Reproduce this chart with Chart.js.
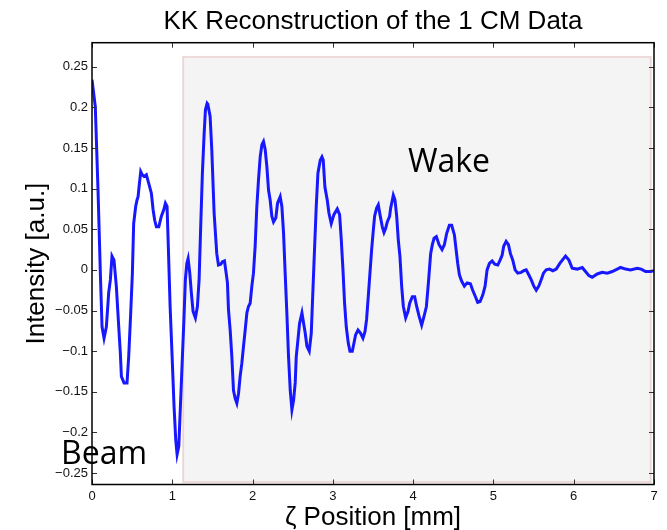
<!DOCTYPE html>
<html>
<head>
<meta charset="utf-8">
<script src="https://cdn.jsdelivr.net/npm/chart.js@4"></script>
<style>
body { margin: 0; background: #fff; }
#wrap { width: 667px; height: 530px; }
</style>
</head>
<body>
<div id="wrap"><canvas id="myChart" width="667" height="530"></canvas></div>
<script>
// zeta position [mm]
const zeta = [
  0.000, 0.041, 0.075, 0.104, 0.125, 0.150, 0.179, 0.208, 0.229, 0.249, 0.274, 0.303, 0.333, 0.353, 0.366, 0.399,
  0.436, 0.457, 0.482, 0.503, 0.519, 0.544, 0.561, 0.574, 0.586, 0.607, 0.627, 0.648, 0.677, 0.711, 0.740, 0.761,
  0.781, 0.802, 0.832, 0.864, 0.894, 0.914, 0.935, 0.948, 0.973, 0.998, 1.022, 1.043, 1.060, 1.081, 1.101, 1.126,
  1.143, 1.163, 1.181, 1.197, 1.218, 1.238, 1.259, 1.288, 1.313, 1.334, 1.355, 1.375, 1.397, 1.413, 1.434, 1.442,
  1.471, 1.492, 1.521, 1.554, 1.575, 1.604, 1.625, 1.650, 1.671, 1.687, 1.700, 1.721, 1.742, 1.762, 1.783, 1.804,
  1.825, 1.845, 1.866, 1.887, 1.908, 1.929, 1.949, 1.970, 1.991, 2.011, 2.032, 2.053, 2.074, 2.095, 2.116, 2.136,
  2.157, 2.178, 2.199, 2.219, 2.240, 2.261, 2.290, 2.311, 2.344, 2.365, 2.386, 2.406, 2.427, 2.448, 2.469, 2.490,
  2.511, 2.531, 2.544, 2.565, 2.585, 2.615, 2.636, 2.656, 2.677, 2.706, 2.731, 2.747, 2.768, 2.793, 2.814, 2.843,
  2.864, 2.880, 2.901, 2.930, 2.951, 2.980, 3.013, 3.055, 3.084, 3.105, 3.126, 3.146, 3.167, 3.192, 3.213, 3.242,
  3.263, 3.283, 3.313, 3.346, 3.375, 3.400, 3.420, 3.441, 3.462, 3.483, 3.504, 3.520, 3.545, 3.566, 3.587, 3.616,
  3.637, 3.657, 3.678, 3.707, 3.720, 3.741, 3.753, 3.774, 3.795, 3.815, 3.836, 3.857, 3.878, 3.907, 3.937, 3.957,
  3.990, 4.019, 4.044, 4.074, 4.106, 4.136, 4.165, 4.190, 4.218, 4.239, 4.261, 4.289, 4.323, 4.360, 4.389, 4.418,
  4.451, 4.480, 4.514, 4.535, 4.555, 4.576, 4.605, 4.638, 4.672, 4.713, 4.742, 4.776, 4.804, 4.834, 4.867, 4.896,
  4.921, 4.950, 4.984, 5.017, 5.054, 5.083, 5.108, 5.128, 5.158, 5.187, 5.212, 5.241, 5.270, 5.303, 5.345, 5.378,
  5.408, 5.440, 5.470, 5.503, 5.533, 5.565, 5.595, 5.623, 5.657, 5.698, 5.740, 5.782, 5.827, 5.898, 5.940, 5.981,
  6.043, 6.106, 6.147, 6.189, 6.230, 6.293, 6.355, 6.417, 6.480, 6.542, 6.584, 6.646, 6.708, 6.791, 6.841, 6.895,
  6.958, 7.000
];
// intensity [a.u.]
const intensity = [
  0.234, 0.201, 0.098, -0.004, -0.070, -0.084, -0.070, -0.028, -0.012, 0.017, 0.012, -0.020, -0.070, -0.102, -0.131, -0.139,
  -0.139, -0.107, -0.053, -0.004, 0.057, 0.078, 0.086, 0.090, 0.102, 0.121, 0.117, 0.115, 0.117, 0.105, 0.094, 0.074,
  0.061, 0.053, 0.053, 0.066, 0.074, 0.082, 0.078, 0.037, -0.045, -0.107, -0.168, -0.209, -0.227, -0.217, -0.168, -0.107,
  -0.066, -0.012, 0.008, 0.014, -0.004, -0.029, -0.051, -0.059, -0.045, -0.012, 0.057, 0.119, 0.168, 0.197, 0.205, 0.204,
  0.189, 0.148, 0.070, 0.020, 0.006, 0.007, 0.010, 0.011, -0.004, -0.016, -0.049, -0.074, -0.107, -0.148, -0.158, -0.164,
  -0.152, -0.131, -0.115, -0.094, -0.074, -0.053, -0.045, -0.041, -0.020, -0.004, 0.029, 0.078, 0.111, 0.139, 0.154, 0.158,
  0.148, 0.127, 0.098, 0.086, 0.066, 0.059, 0.064, 0.082, 0.090, 0.078, 0.045, -0.004, -0.053, -0.107, -0.148, -0.172,
  -0.160, -0.139, -0.107, -0.086, -0.066, -0.053, -0.066, -0.078, -0.094, -0.100, -0.078, -0.037, 0.016, 0.078, 0.119, 0.135,
  0.139, 0.135, 0.102, 0.086, 0.070, 0.057, 0.068, 0.075, 0.068, 0.037, 0.000, -0.041, -0.070, -0.090, -0.100, -0.100,
  -0.090, -0.080, -0.074, -0.078, -0.084, -0.076, -0.061, -0.033, -0.004, 0.025, 0.049, 0.066, 0.076, 0.080, 0.068, 0.053,
  0.046, 0.051, 0.059, 0.066, 0.076, 0.086, 0.092, 0.086, 0.066, 0.037, 0.016, -0.020, -0.045, -0.059, -0.051, -0.041,
  -0.033, -0.033, -0.045, -0.057, -0.068, -0.057, -0.045, -0.016, 0.020, 0.031, 0.039, 0.041, 0.031, 0.025, 0.031, 0.045,
  0.055, 0.055, 0.043, 0.025, 0.008, -0.006, -0.014, -0.020, -0.016, -0.017, -0.025, -0.033, -0.040, -0.039, -0.031, -0.020,
  0.000, 0.008, 0.011, 0.007, 0.006, 0.012, 0.018, 0.029, 0.035, 0.031, 0.020, 0.012, 0.000, -0.004, -0.003, -0.001,
  0.000, -0.006, -0.012, -0.020, -0.025, -0.020, -0.012, -0.004, 0.000, 0.001, -0.001, 0.001, 0.008, 0.017, 0.012, 0.002,
  0.001, 0.003, -0.002, -0.007, -0.009, -0.005, -0.003, -0.004, -0.002, 0.001, 0.003, 0.001, 0.000, 0.002, 0.001, -0.002,
  -0.002, -0.001
];
const xTicks = [0, 1, 2, 3, 4, 5, 6, 7];
const yTicks = [-0.25, -0.2, -0.15, -0.1, -0.05, 0, 0.05, 0.1, 0.15, 0.2, 0.25];

const helv = '"Liberation Sans", Arial, Helvetica, sans-serif';

// wake region, beam/wake labels, box frame and inward ticks
const decorations = {
  id: 'decorations',
  beforeDatasetsDraw(chart) {
    const ctx = chart.ctx;
    const x = chart.scales.x, y = chart.scales.y;
    const l = x.getPixelForValue(1.135), r = x.getPixelForValue(6.96);
    const t = y.getPixelForValue(0.262), b = y.getPixelForValue(-0.261);
    ctx.save();
    ctx.fillStyle = '#f4f4f4';
    ctx.fillRect(l, t, r - l, b - t);
    ctx.strokeStyle = 'rgba(228,190,190,0.55)';
    ctx.lineWidth = 2;
    ctx.strokeRect(l, t, r - l, b - t);
    ctx.restore();
  },
  afterDraw(chart) {
    const ctx = chart.ctx;
    const a = chart.chartArea;
    const x = chart.scales.x, y = chart.scales.y;
    ctx.save();
    ctx.strokeStyle = '#333';
    ctx.lineWidth = 1;
    ctx.beginPath();
    xTicks.forEach(function (v) {
      const px = Math.round(x.getPixelForValue(v)) + 0.5;
      ctx.moveTo(px, a.bottom); ctx.lineTo(px, a.bottom - 5);
      ctx.moveTo(px, a.top); ctx.lineTo(px, a.top + 5);
    });
    yTicks.forEach(function (v) {
      const py = Math.round(y.getPixelForValue(v)) + 0.5;
      ctx.moveTo(a.left, py); ctx.lineTo(a.left + 5, py);
      ctx.moveTo(a.right, py); ctx.lineTo(a.right - 5, py);
    });
    ctx.stroke();
    ctx.strokeStyle = '#000';
    ctx.lineWidth = 1.5;
    ctx.strokeRect(a.left, a.top, a.right - a.left, a.bottom - a.top);

    ctx.fillStyle = '#000';
    ctx.font = '32px "Open Sans", sans-serif';
    ctx.textBaseline = 'alphabetic';
    ctx.textAlign = 'left';
    ctx.fillText('Wake', x.getPixelForValue(3.935), y.getPixelForValue(0.1205));
    ctx.fillText('Beam', x.getPixelForValue(-0.386), y.getPixelForValue(-0.2385));
    ctx.restore();
  }
};

function createChart() {
  const ctx = document.getElementById('myChart').getContext('2d');
  const points = zeta.map(function (z, i) { return { x: z, y: intensity[i] }; });
  new Chart(ctx, {
    type: 'line',
    data: {
      datasets: [{
        data: points,
        borderColor: 'rgb(24,24,255)',
        borderWidth: 3,
        pointRadius: 0,
        tension: 0,
        fill: false
      }]
    },
    options: {
      responsive: false,
      animation: false,
      devicePixelRatio: 1,
      layout: { padding: { left: 0, right: 13, top: 0, bottom: 0 } },
      plugins: {
        legend: { display: false },
        tooltip: { enabled: false },
        title: {
          display: true,
          fullSize: false,
          text: 'KK Reconstruction of the 1 CM Data',
          color: '#000',
          font: { family: helv, size: 26, weight: 'normal' },
          padding: { top: 6, bottom: 5.5 }
        }
      },
      scales: {
        x: {
          type: 'linear',
          min: 0,
          max: 7,
          afterBuildTicks: function (s) { s.ticks = xTicks.map(function (v) { return { value: v }; }); },
          afterFit: function (s) { s.height = 45.5; },
          grid: { display: false, drawTicks: false },
          border: { display: false },
          ticks: { color: '#111', padding: 4, font: { family: helv, size: 13 }, maxRotation: 0 },
          title: {
            display: true,
            text: 'ζ Position [mm]',
            color: '#000',
            font: { family: helv, size: 26 },
            padding: { top: 0, bottom: -3 }
          }
        },
        y: {
          type: 'linear',
          min: -0.264,
          max: 0.2795,
          afterBuildTicks: function (s) { s.ticks = yTicks.map(function (v) { return { value: v }; }); },
          afterFit: function (s) { s.width = 92; },
          grid: { display: false, drawTicks: false },
          border: { display: false },
          ticks: {
            color: '#111',
            padding: 4,
            font: { family: helv, size: 13 },
            callback: function (v) { return v < 0 ? '\u2212' + String(-v) : String(v); }
          },
          title: {
            display: true,
            text: 'Intensity [a.u.]',
            color: '#000',
            font: { family: helv, size: 26 },
            padding: { top: 21, bottom: 0 }
          }
        }
      }
    },
    plugins: [decorations]
  });
}

createChart();
</script>
</body>
</html>
